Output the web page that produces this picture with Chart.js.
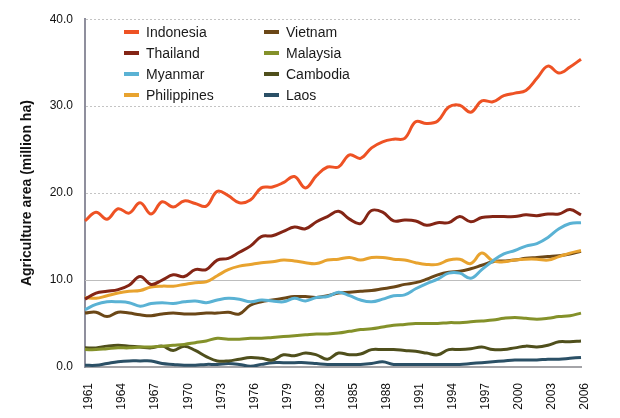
<!DOCTYPE html>
<html>
<head>
<meta charset="utf-8">
<script src="https://cdn.jsdelivr.net/npm/chart.js@4.4.0/dist/chart.umd.min.js"></script>
<style>
  html, body { margin: 0; padding: 0; background: #fff; }
  #wrap { width: 620px; height: 418px; }
</style>
</head>
<body>
<div id="wrap"><canvas id="chart" width="620" height="418"></canvas></div>
<script>
// years on the x axis
var years = [1961, 1962, 1963, 1964, 1965, 1966, 1967, 1968, 1969, 1970,
             1971, 1972, 1973, 1974, 1975, 1976, 1977, 1978, 1979, 1980,
             1981, 1982, 1983, 1984, 1985, 1986, 1987, 1988, 1989, 1990,
             1991, 1992, 1993, 1994, 1995, 1996, 1997, 1998, 1999, 2000,
             2001, 2002, 2003, 2004, 2005, 2006];
var tickYears = [1961, 1964, 1967, 1970, 1973, 1976, 1979, 1982, 1985, 1988,
                 1991, 1994, 1997, 2000, 2003, 2006];
var yTicks = [0, 10, 20, 30, 40];

// agriculture area, million ha
var indonesia = [16.8, 17.8, 17.0, 18.2, 17.7, 18.9, 17.6, 19.0, 18.4, 19.1,
                 18.8, 18.5, 20.2, 19.7, 18.9, 19.2, 20.6, 20.7, 21.2, 21.9,
                 20.6, 22.0, 23.0, 23.0, 24.4, 24.0, 25.2, 25.9, 26.2, 26.3,
                 28.2, 28.0, 28.3, 29.9, 30.1, 29.3, 30.6, 30.5, 31.2, 31.5,
                 31.8, 33.2, 34.6, 33.8, 34.5, 35.4];
var thailand = [7.8, 8.5, 8.7, 8.9, 9.4, 10.4, 9.5, 10.0, 10.6, 10.4,
                11.2, 11.2, 12.3, 12.5, 13.2, 13.9, 15.0, 15.1, 15.6, 16.1,
                15.9, 16.7, 17.3, 17.9, 17.0, 16.5, 18.0, 17.8, 16.8, 16.9,
                16.8, 16.3, 16.6, 16.6, 17.3, 16.7, 17.2, 17.3, 17.3, 17.3,
                17.5, 17.4, 17.6, 17.6, 18.1, 17.5];
var myanmar = [6.6, 7.2, 7.5, 7.5, 7.4, 7.0, 7.3, 7.4, 7.3, 7.5,
               7.6, 7.4, 7.7, 7.9, 7.8, 7.5, 7.7, 7.6, 7.5, 7.9,
               7.6, 8.0, 8.1, 8.6, 8.2, 7.7, 7.5, 7.8, 8.2, 8.3,
               9.0, 9.6, 10.1, 10.8, 10.8, 10.2, 11.2, 12.2, 13.0, 13.4,
               13.9, 14.2, 14.9, 15.9, 16.5, 16.6];
var philippines = [8.0, 7.9, 8.2, 8.5, 8.7, 8.8, 9.2, 9.3, 9.3, 9.5,
                   9.7, 9.8, 10.5, 11.2, 11.6, 11.8, 12.0, 12.1, 12.3, 12.2,
                   12.0, 11.9, 12.3, 12.4, 12.6, 12.3, 12.6, 12.6, 12.4, 12.3,
                   12.0, 11.8, 11.8, 12.3, 12.4, 11.9, 13.1, 12.2, 12.1, 12.3,
                   12.4, 12.4, 12.3, 12.7, 13.1, 13.4];
var vietnam = [6.2, 6.3, 5.8, 6.3, 6.2, 6.0, 5.9, 6.1, 6.2, 6.1,
               6.1, 6.2, 6.2, 6.3, 6.1, 7.1, 7.5, 7.7, 7.9, 8.1,
               8.1, 8.0, 8.2, 8.5, 8.6, 8.7, 8.8, 9.0, 9.2, 9.5,
               9.7, 10.1, 10.6, 10.9, 11.0, 11.3, 11.7, 12.1, 12.2, 12.3,
               12.5, 12.6, 12.7, 12.8, 13.0, 13.3];
var malaysia = [2.0, 2.0, 2.1, 2.2, 2.2, 2.3, 2.3, 2.4, 2.5, 2.6,
                2.8, 3.0, 3.3, 3.2, 3.2, 3.3, 3.3, 3.4, 3.5, 3.6,
                3.7, 3.8, 3.8, 3.9, 4.1, 4.3, 4.4, 4.6, 4.8, 4.9,
                5.0, 5.0, 5.0, 5.1, 5.1, 5.2, 5.3, 5.4, 5.6, 5.7,
                5.6, 5.5, 5.6, 5.8, 5.9, 6.2];
var cambodia = [2.2, 2.2, 2.4, 2.5, 2.4, 2.3, 2.2, 2.4, 1.9, 2.4,
                1.9, 1.2, 0.7, 0.7, 0.9, 1.1, 1.0, 0.8, 1.4, 1.3,
                1.6, 1.4, 0.9, 1.6, 1.4, 1.5, 2.0, 2.0, 2.0, 1.9,
                1.8, 1.6, 1.4, 2.0, 2.0, 2.1, 2.3, 2.0, 2.0, 2.2,
                2.4, 2.3, 2.5, 2.9, 2.9, 3.0];
var laos = [0.2, 0.2, 0.4, 0.6, 0.7, 0.7, 0.7, 0.4, 0.3, 0.2,
            0.2, 0.3, 0.3, 0.4, 0.3, 0.1, 0.3, 0.5, 0.5, 0.5,
            0.5, 0.4, 0.3, 0.3, 0.3, 0.3, 0.4, 0.6, 0.3, 0.3,
            0.3, 0.3, 0.3, 0.3, 0.3, 0.4, 0.5, 0.6, 0.7, 0.8,
            0.8, 0.8, 0.9, 0.9, 1.0, 1.1];

var FONT = '"Liberation Sans", Arial, sans-serif';

function line(label, data, color) {
    return {
        label: label,
        data: data,
        borderColor: color,
        backgroundColor: color,
        borderWidth: 3,
        pointRadius: 0,
        tension: 0.4,
        fill: false
    };
}

// legend sits inside the plot, two columns of four
var insetLegend = {
    id: 'insetLegend',
    afterDraw: function (chart) {
        var ctx = chart.ctx;
        ctx.save();
        ctx.font = '14px ' + FONT;
        ctx.textBaseline = 'middle';
        chart.data.datasets.forEach(function (ds, i) {
            var col = Math.floor(i / 4), row = i % 4;
            var x = 124 + col * 140, y = 32 + row * 21;
            ctx.fillStyle = ds.borderColor;
            ctx.fillRect(x, y - 2, 15, 4);
            ctx.fillStyle = '#1a1a1a';
            ctx.fillText(ds.label, x + 22, y + 1);
        });
        ctx.restore();
    }
};

// the 10.0 gridline is solid in the original
var solidTen = {
    id: 'solidTen',
    beforeDatasetsDraw: function (chart) {
        var y = chart.scales.y.getPixelForValue(10);
        var ctx = chart.ctx;
        ctx.save();
        ctx.strokeStyle = '#bdbdbd';
        ctx.lineWidth = 1;
        ctx.beginPath();
        ctx.moveTo(chart.chartArea.left, Math.round(y) + 0.5);
        ctx.lineTo(chart.chartArea.right, Math.round(y) + 0.5);
        ctx.stroke();
        ctx.restore();
    }
};

var ctx = document.getElementById('chart').getContext('2d');
var chart = new Chart(ctx, {
    type: 'line',
    data: {
        labels: years,
        datasets: [
            line('Indonesia', indonesia, '#ee5224'),
            line('Thailand', thailand, '#842515'),
            line('Myanmar', myanmar, '#5ab2d4'),
            line('Philippines', philippines, '#e8a32f'),
            line('Vietnam', vietnam, '#6b4717'),
            line('Malaysia', malaysia, '#84912a'),
            line('Cambodia', cambodia, '#4f4f1c'),
            line('Laos', laos, '#2b5066')
        ]
    },
    options: {
        responsive: false,
        animation: false,
        layout: { padding: { top: 19, right: 39, left: 0, bottom: 0 } },
        plugins: {
            legend: { display: false },
            tooltip: { enabled: false }
        },
        scales: {
            x: {
                grid: { display: false, drawTicks: false },
                border: { display: true, color: '#a4a4a8', width: 2 },
                afterFit: function (s) { s.height = 51; },
                ticks: {
                    autoSkip: false,
                    maxRotation: 90,
                    minRotation: 90,
                    padding: 16,
                    labelOffset: 4,
                    color: '#111',
                    font: { family: FONT, size: 12 },
                    callback: function (v, i) {
                        return tickYears.indexOf(years[i]) >= 0 ? String(years[i]) : '';
                    }
                }
            },
            y: {
                min: 0,
                max: 40,
                afterFit: function (s) { s.width = 85; },
                afterBuildTicks: function (s) {
                    s.ticks = yTicks.map(function (v) { return { value: v }; });
                },
                grid: {
                    drawTicks: false,
                    lineWidth: 1,
                    color: function (c) {
                        return (c.tick && c.tick.value === 10) ? 'rgba(0,0,0,0)' : '#c4c4c4';
                    }
                },
                border: { display: true, color: '#8f8f9d', width: 2, dash: [2, 2] },
                ticks: {
                    padding: 12,
                    color: '#111',
                    font: { family: FONT, size: 12 },
                    callback: function (v) { return Number(v).toFixed(1); }
                },
                title: {
                    display: true,
                    text: 'Agriculture area (million ha)',
                    color: '#111',
                    font: { family: FONT, size: 14, weight: 'bold' },
                    padding: { top: 19, bottom: 0 }
                }
            }
        }
    },
    plugins: [solidTen, insetLegend]
});
</script>
</body>
</html>
